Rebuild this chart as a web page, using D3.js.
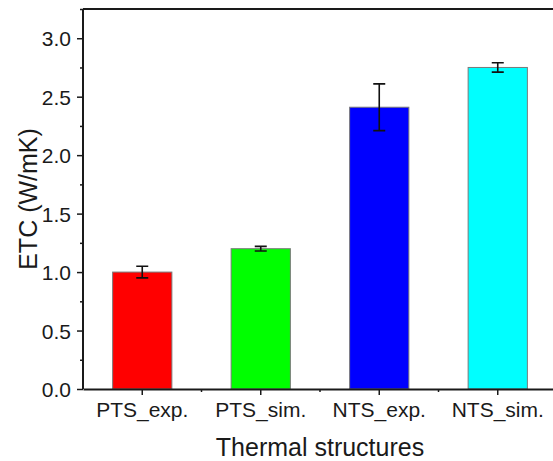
<!DOCTYPE html>
<html>
<head>
<meta charset="utf-8">
<script src="https://cdn.jsdelivr.net/npm/d3@7"></script>
<style>
    body { margin: 0; background: #fff; }
    svg { display: block; font-family: "Liberation Sans", Arial, sans-serif; }
    .axis path, .axis line { stroke: #1a1a1a; }
    .axis text { fill: #1a1a1a; font-size: 21px; }
</style>
</head>
<body>
<div id="chart"></div>
<script>
// data
const categories = ['PTS_exp.', 'PTS_sim.', 'NTS_exp.', 'NTS_sim.'];
const etcValues = [1.00, 1.20, 2.41, 2.75];
const etcErrors = [0.05, 0.02, 0.20, 0.04];
const barColors = ['#ff0000', '#00ff00', '#0000ff', '#00ffff'];
const yTicks = [0, 0.5, 1.0, 1.5, 2.0, 2.5, 3.0];
const yMinorTicks = [0.25, 0.75, 1.25, 1.75, 2.25, 2.75, 3.25];

const width = 553, height = 461;
const margin = { top: 9, bottom: 72, left: 83, right: -4 }; // right edge of frame sits just off-screen

const svg = d3.select('#chart')
    .append('svg')
    .attr('width', width)
    .attr('height', height);

const x = d3.scaleBand(categories, [margin.left, width - margin.right])
    .paddingInner(0.5)
    .paddingOuter(0.25);
const y = d3.scaleLinear([0, 3.25], [height - margin.bottom, margin.top]);

const rows = categories.map((c, i) => ({ cat: c, v: etcValues[i], e: etcErrors[i], col: barColors[i] }));

// bars
svg.append('g')
    .selectAll('rect')
    .data(rows)
    .join('rect')
    .attr('x', d => x(d.cat))
    .attr('y', d => y(d.v))
    .attr('width', x.bandwidth())
    .attr('height', d => y(0) - y(d.v))
    .attr('fill', d => d.col)
    .attr('stroke', '#7a7a7a')
    .attr('stroke-width', 1);

// error bars
const capW = 12;
const cx = d => x(d.cat) + x.bandwidth() / 2;
const err = svg.append('g')
    .attr('stroke', '#111')
    .attr('stroke-width', 1.6);
err.selectAll('path')
    .data(rows)
    .join('path')
    .attr('fill', 'none')
    .attr('d', d => {
        let top = y(d.v + d.e), bot = y(d.v - d.e), c = cx(d);
        return `M${c},${top}V${bot}M${c - capW / 2},${top}h${capW}M${c - capW / 2},${bot}h${capW}`;
    });

// frame top line (right side falls outside the view)
const x0 = margin.left, x1 = width - margin.right;
svg.append('line')
    .attr('x1', x0).attr('x2', x1)
    .attr('y1', y(3.25)).attr('y2', y(3.25))
    .attr('stroke', '#1a1a1a')
    .attr('stroke-width', 2);

// y axis
svg.append('g')
    .attr('class', 'axis')
    .attr('transform', `translate(${margin.left},0)`)
    .call(d3.axisLeft(y).tickValues(yMinorTicks).tickSize(3).tickFormat('').tickSizeOuter(0))
    .call(g => g.select('.domain').remove())
    .selectAll('line').attr('stroke-width', 1.5);
const axisY = svg.append('g')
    .attr('class', 'axis')
    .attr('transform', `translate(${margin.left},0)`)
    .call(d3.axisLeft(y).tickValues(yTicks).tickFormat(d3.format('.1f')).tickSize(6).tickPadding(6).tickSizeOuter(0));
axisY.select('.domain').attr('stroke-width', 2).attr('d', `M0,${y(3.25)}V${y(0)}`);
axisY.selectAll('.tick line').attr('stroke-width', 1.5);
axisY.selectAll('text').attr('dy', '0.36em');

// x axis
const axisX = svg.append('g')
    .attr('class', 'axis')
    .attr('transform', `translate(0,${y(0)})`)
    .call(d3.axisBottom(x).tickSize(6).tickPadding(7).tickSizeOuter(0));
axisX.select('.domain').attr('stroke-width', 2);
axisX.selectAll('.tick line').attr('stroke-width', 1.5);

// minor ticks between categories
const step = x.step();
axisX.selectAll('line.minor')
    .data(categories.slice(0, -1))
    .join('line')
    .classed('minor', true)
    .attr('x1', d => x(d) + x.bandwidth() + (step - x.bandwidth()) / 2)
    .attr('x2', d => x(d) + x.bandwidth() + (step - x.bandwidth()) / 2)
    .attr('y1', 0)
    .attr('y2', 3)
    .attr('stroke', '#1a1a1a')
    .attr('stroke-width', 1.5);

// axis titles
svg.append('text')
    .attr('transform', `translate(${(x0 + x1) / 2}, 456)`)
    .style('text-anchor', 'middle')
    .style('font-size', '25px')
    .attr('fill', '#1a1a1a')
    .text('Thermal structures');
svg.append('text')
    .attr('transform', `translate(37, ${(y(0) + y(3.25)) / 2})rotate(-90)`)
    .style('text-anchor', 'middle')
    .style('font-size', '25px')
    .attr('fill', '#1a1a1a')
    .text('ETC (W/mK)');
</script>
</body>
</html>
